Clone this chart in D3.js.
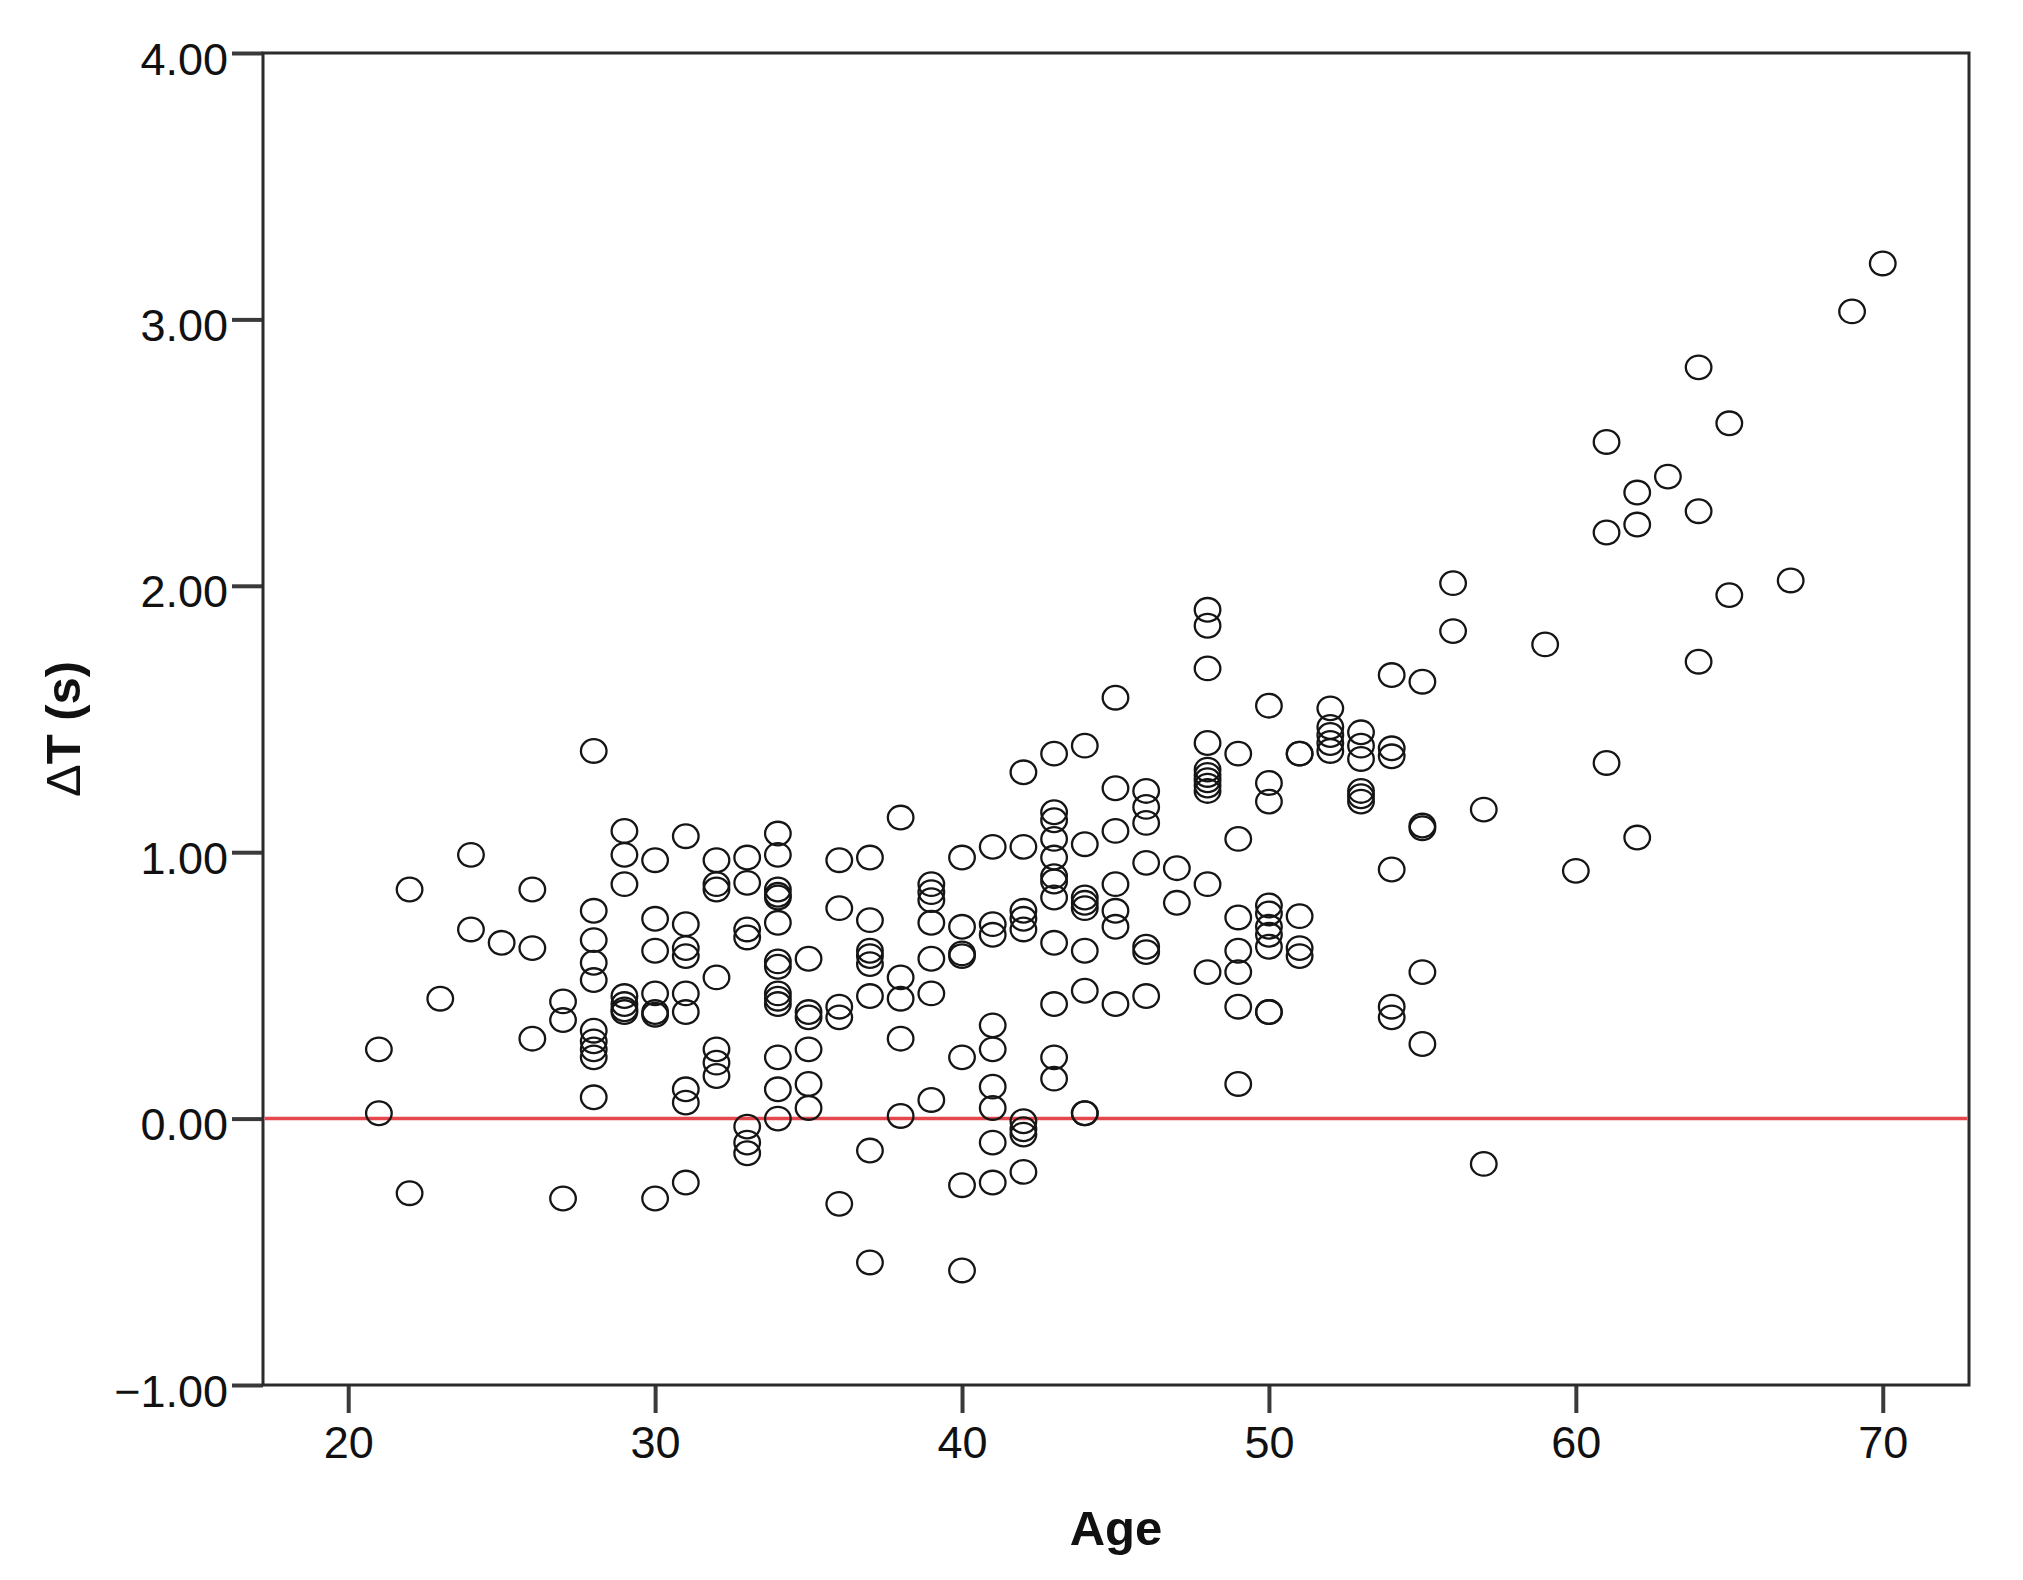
<!DOCTYPE html>
<html>
<head>
<meta charset="utf-8">
<script src="https://cdn.jsdelivr.net/npm/d3@7"></script>
<style>
  html, body { margin: 0; padding: 0; background: #ffffff; }
  svg { display: block; }
</style>
</head>
<body>
<div id="chart"></div>
<script>
// ---- Data ----
const ageGroups = [21, 22, 23, 24, 25, 26, 27, 28, 29, 30, 31, 32, 33, 34, 35, 36, 37, 38, 39, 40,
  41, 42, 43, 44, 45, 46, 47, 48, 49, 50, 51, 52, 53, 54, 55, 56, 57, 59, 60, 61, 62, 63, 64, 65, 67, 69, 70];

const deltaTByAge = [
  [0.26, 0.02],                                            // 21
  [0.86, -0.28],                                           // 22
  [0.45],                                                  // 23
  [0.99, 0.71],                                            // 24
  [0.66],                                                  // 25
  [0.86, 0.64, 0.30],                                      // 26
  [0.44, 0.37, -0.30],                                     // 27
  [1.38, 0.78, 0.67, 0.585, 0.52, 0.33, 0.29, 0.26, 0.23, 0.08], // 28
  [1.08, 0.99, 0.88, 0.46, 0.43, 0.41, 0.40],              // 29
  [0.97, 0.75, 0.63, 0.47, 0.40, 0.39, -0.30],             // 30
  [1.06, 0.73, 0.64, 0.61, 0.47, 0.40, 0.11, 0.06, -0.24], // 31
  [0.97, 0.88, 0.86, 0.53, 0.26, 0.21, 0.16],              // 32
  [0.98, 0.885, 0.71, 0.68, -0.03, -0.09, -0.13],          // 33
  [1.07, 0.99, 0.86, 0.84, 0.83, 0.735, 0.59, 0.57, 0.47, 0.45, 0.43, 0.23, 0.11, 0.00], // 34
  [0.60, 0.40, 0.38, 0.26, 0.13, 0.04],                    // 35
  [0.97, 0.79, 0.42, 0.38, -0.32],                         // 36
  [0.98, 0.745, 0.63, 0.61, 0.58, 0.46, -0.12, -0.54],     // 37
  [1.13, 0.53, 0.45, 0.30, 0.01],                          // 38
  [0.88, 0.85, 0.82, 0.735, 0.60, 0.47, 0.07],             // 39
  [0.98, 0.72, 0.62, 0.61, 0.23, -0.25, -0.57],            // 40
  [1.02, 0.73, 0.69, 0.35, 0.26, 0.12, 0.04, -0.09, -0.24],// 41
  [1.30, 1.02, 0.78, 0.75, 0.71, -0.01, -0.04, -0.06, -0.20], // 42
  [1.37, 1.15, 1.12, 1.05, 0.98, 0.91, 0.89, 0.83, 0.66, 0.43, 0.23, 0.15], // 43
  [1.40, 1.03, 0.83, 0.81, 0.79, 0.63, 0.48, 0.02, 0.02],  // 44
  [1.58, 1.24, 1.08, 0.88, 0.78, 0.72, 0.43],              // 45
  [1.23, 1.17, 1.11, 0.96, 0.645, 0.625, 0.46],            // 46
  [0.94, 0.81],                                            // 47
  [1.91, 1.85, 1.69, 1.41, 1.31, 1.29, 1.27, 1.25, 1.23, 0.88, 0.55], // 48
  [1.37, 1.05, 0.755, 0.63, 0.55, 0.42, 0.13],             // 49
  [1.55, 1.26, 1.19, 0.80, 0.77, 0.72, 0.69, 0.645, 0.40, 0.40], // 50
  [1.37, 1.37, 0.76, 0.64, 0.61],                          // 51
  [1.54, 1.47, 1.44, 1.41, 1.38],                          // 52
  [1.45, 1.40, 1.35, 1.23, 1.21, 1.19],                    // 53
  [1.665, 1.39, 1.36, 0.935, 0.42, 0.38],                  // 54
  [1.64, 1.10, 1.09, 0.55, 0.28],                          // 55
  [2.01, 1.83],                                            // 56
  [1.16, -0.17],                                           // 57
  [1.78],                                                  // 59
  [0.93],                                                  // 60
  [2.54, 2.20, 1.335],                                     // 61
  [2.35, 2.23, 1.055],                                     // 62
  [2.41],                                                  // 63
  [2.82, 2.28, 1.715],                                     // 64
  [2.61, 1.965],                                           // 65
  [2.02],                                                  // 67
  [3.03],                                                  // 69
  [3.21]                                                   // 70
];

const xTickValues = [20, 30, 40, 50, 60, 70];
const yTickValues = [-1, 0, 1, 2, 3, 4];
const referenceValue = 0;
const xAxisTitle = "Age";
const yAxisTitleSymbol = "\u0394";
const yAxisTitleRest = "T (s)";

// ---- Build point table ----
const points = [];
ageGroups.forEach((age, i) => {
  deltaTByAge[i].forEach(v => points.push({ age: age, dt: v }));
});

// ---- Layout ----
const W = 2023, H = 1580;
const plot = { left: 263, right: 1969, top: 53, bottom: 1385 };
const fontFamily = "'Liberation Sans', Arial, Helvetica, sans-serif";

const svg = d3.select("#chart").append("svg")
  .attr("width", W).attr("height", H)
  .attr("viewBox", `0 0 ${W} ${H}`);

svg.append("rect").attr("width", W).attr("height", H).attr("fill", "#ffffff");

const x = d3.scaleLinear().domain([17.224, 72.81]).range([plot.left, plot.right]);
const y = d3.scaleLinear().domain([-1, 4]).range([plot.bottom, plot.top]);

// Y axis
const yAxis = d3.axisLeft(y)
  .tickValues(yTickValues)
  .tickFormat(d3.format(".2f"))
  .tickSize(31)
  .tickPadding(4);

const gy = svg.append("g")
  .attr("transform", `translate(${plot.left},0)`)
  .call(yAxis);
gy.select(".domain").remove();
gy.selectAll(".tick line").attr("stroke", "#3a3a3a").attr("stroke-width", 4);
gy.selectAll(".tick text")
  .attr("font-family", fontFamily)
  .attr("font-size", 45)
  .attr("fill", "#111")
  .attr("dy", "0.47em");

// X axis
const xAxis = d3.axisBottom(x)
  .tickValues(xTickValues)
  .tickFormat(d3.format("d"))
  .tickSize(28)
  .tickPadding(13);

const gx = svg.append("g")
  .attr("transform", `translate(0,${plot.bottom})`)
  .call(xAxis);
gx.select(".domain").remove();
gx.selectAll(".tick line").attr("stroke", "#3a3a3a").attr("stroke-width", 4);
gx.selectAll(".tick text")
  .attr("font-family", fontFamily)
  .attr("font-size", 45)
  .attr("fill", "#111");

// Frame
svg.append("rect")
  .attr("x", plot.left).attr("y", plot.top)
  .attr("width", plot.right - plot.left)
  .attr("height", plot.bottom - plot.top)
  .attr("fill", "none")
  .attr("stroke", "#2b2b2b")
  .attr("stroke-width", 3);

// Reference line at 0
svg.append("line")
  .attr("x1", plot.left + 1.5).attr("x2", plot.right - 1.5)
  .attr("y1", y(referenceValue)).attr("y2", y(referenceValue))
  .attr("stroke", "#e5474d")
  .attr("stroke-width", 3.5);

// Points
svg.append("g")
  .selectAll("ellipse")
  .data(points)
  .join("ellipse")
  .attr("cx", d => x(d.age))
  .attr("cy", d => y(d.dt))
  .attr("rx", 12.8)
  .attr("ry", 11.8)
  .attr("fill", "none")
  .attr("stroke", "#151515")
  .attr("stroke-width", 2.3);

// Axis titles
svg.append("text")
  .attr("x", (plot.left + plot.right) / 2)
  .attr("y", 1545)
  .attr("text-anchor", "middle")
  .attr("font-family", fontFamily)
  .attr("font-weight", "bold")
  .attr("font-size", 49)
  .attr("fill", "#111")
  .text(xAxisTitle);

const yt = svg.append("text")
  .attr("transform", `translate(80,${(plot.top + plot.bottom) / 2 + 10}) rotate(-90)`)
  .attr("text-anchor", "middle")
  .attr("font-family", fontFamily)
  .attr("font-size", 49)
  .attr("fill", "#111");
yt.append("tspan").attr("font-weight", "normal").text(yAxisTitleSymbol);
yt.append("tspan").attr("font-weight", "bold").text(yAxisTitleRest);
</script>
</body>
</html>
